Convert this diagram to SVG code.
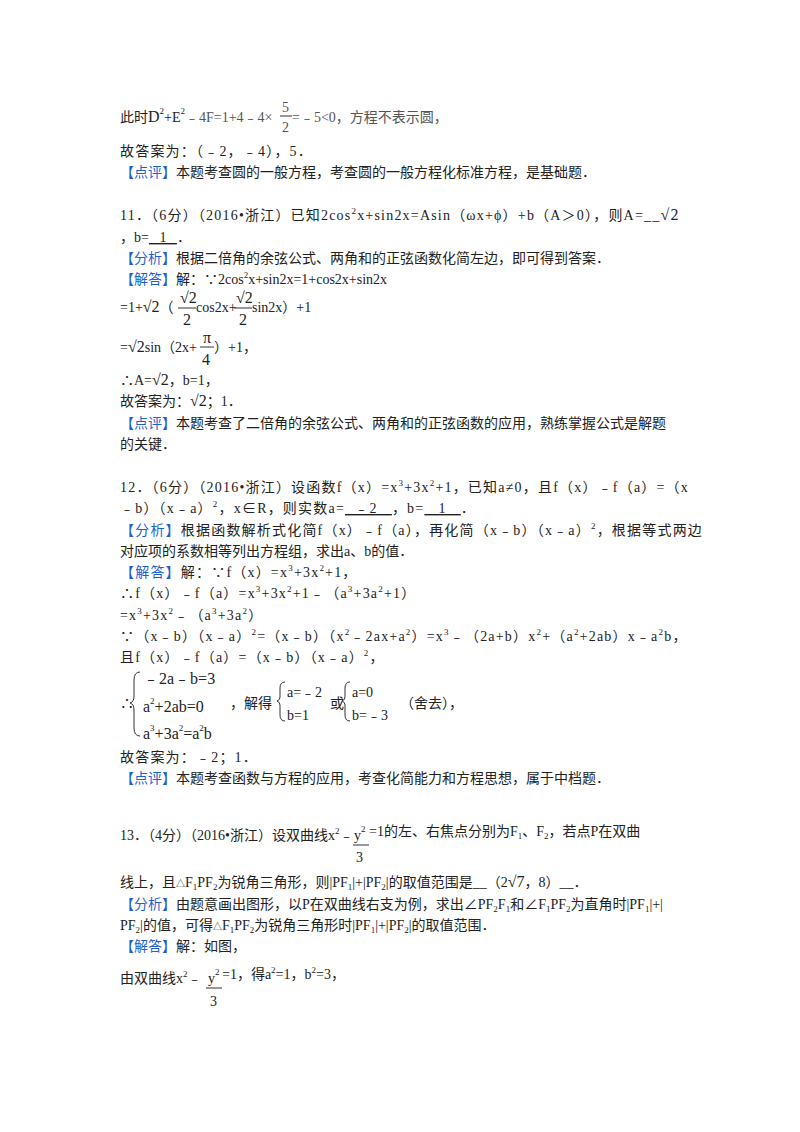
<svg xmlns="http://www.w3.org/2000/svg" width="800" height="1132" viewBox="0 0 800 1132">
<style>
text{font-family:"Liberation Serif","Noto Sans CJK SC",serif;font-size:14px;fill:#222}
.b{fill:#1f5fd0}
.s{font-size:9px}
.m{font-size:16px}
.g{fill:#555}
.w{letter-spacing:1.2px}
</style>
<rect width="800" height="1132" fill="#fff"/>
<g id="q10">
<text x="120" y="122">此时<tspan class="m">D</tspan><tspan class="s" dy="-8">2</tspan><tspan dy="8">+E</tspan><tspan class="s" dy="-8">2</tspan><tspan dy="8" class="g">﹣4F=1+4﹣4×</tspan></text>
<text x="282" y="112" class="g">5</text><line x1="280" y1="116" x2="292" y2="116" stroke="#333"/><text x="282" y="132" class="g">2</text>
<text x="292" y="122" class="g">=﹣5&lt;0，方程不表示圆，</text>
<text x="120" y="156" class="w">故答案为：（﹣2，﹣4），5．</text>
<text x="120" y="177"><tspan class="b">【点评】</tspan>本题考查圆的一般方程，考查圆的一般方程化标准方程，是基础题．</text>
</g>
<g id="q11">
<text x="120" y="220" class="w">11．（6分）（2016•浙江）已知2cos<tspan class="s" dy="-6">2</tspan><tspan dy="6">x+sin2x=Asin（ωx+ϕ）+b（A＞0），则A=__</tspan><tspan class="m">√2</tspan></text>
<text x="120" y="242">，b=<tspan text-decoration="underline">&#160;&#160;&#160;1&#160;&#160;&#160;</tspan>．</text>
<text x="120" y="263"><tspan class="b">【分析】</tspan>根据二倍角的余弦公式、两角和的正弦函数化简左边，即可得到答案．</text>
<text x="120" y="284"><tspan class="b">【解答】</tspan>解：∵2cos<tspan class="s" dy="-6">2</tspan><tspan dy="6">x+sin2x=1+cos2x+sin2x</tspan></text>
<text x="120" y="312">=1+<tspan class="m">√2</tspan>（</text>
<text x="180" y="303" class="m">√2</text><line x1="178" y1="308" x2="196" y2="308" stroke="#333"/><text x="183" y="325" class="m">2</text>
<text x="196" y="312">cos2x+</text>
<text x="236" y="303" class="m">√2</text><line x1="234" y1="308" x2="252" y2="308" stroke="#333"/><text x="239" y="325" class="m">2</text>
<text x="252" y="312">sin2x）+1</text>
<text x="120" y="352">=<tspan class="m">√2</tspan>sin（2x+</text>
<text x="203" y="343" class="m">π</text><line x1="200" y1="347" x2="214" y2="347" stroke="#333"/><text x="202" y="365" class="m">4</text>
<text x="214" y="352">）+1，</text>
<text x="120" y="385">∴A=<tspan class="m">√2</tspan>，b=1，</text>
<text x="120" y="406">故答案为：<tspan class="m">√2</tspan>；1．</text>
<text x="120" y="428"><tspan class="b">【点评】</tspan>本题考查了二倍角的余弦公式、两角和的正弦函数的应用，熟练掌握公式是解题</text>
<text x="120" y="449">的关键．</text>
</g>
<g id="q12">
<text x="120" y="492" class="w">12．（6分）（2016•浙江）设函数f（x）=x<tspan class="s" dy="-6">3</tspan><tspan dy="6">+3x</tspan><tspan class="s" dy="-6">2</tspan><tspan dy="6">+1，已知a≠0，且f（x）﹣f（a）=（x</tspan></text>
<text x="120" y="513" class="w">﹣b）（x﹣a）<tspan class="s" dy="-6">2</tspan><tspan dy="6">，x∈R，则实数a=</tspan><tspan text-decoration="underline">&#160;&#160;﹣2&#160;&#160;&#160;</tspan>，b=<tspan text-decoration="underline">&#160;&#160;&#160;1&#160;&#160;&#160;</tspan>．</text>
<text x="120" y="535" class="w"><tspan class="b">【分析】</tspan>根据函数解析式化简f（x）﹣f（a），再化简（x﹣b）（x﹣a）<tspan class="s" dy="-6">2</tspan><tspan dy="6">，根据等式两边</tspan></text>
<text x="120" y="556">对应项的系数相等列出方程组，求出a、b的值．</text>
<text x="120" y="577" class="w"><tspan class="b">【解答】</tspan>解：∵f（x）=x<tspan class="s" dy="-6">3</tspan><tspan dy="6">+3x</tspan><tspan class="s" dy="-6">2</tspan><tspan dy="6">+1，</tspan></text>
<text x="120" y="598" class="w">∴f（x）﹣f（a）=x<tspan class="s" dy="-6">3</tspan><tspan dy="6">+3x</tspan><tspan class="s" dy="-6">2</tspan><tspan dy="6">+1﹣（a</tspan><tspan class="s" dy="-6">3</tspan><tspan dy="6">+3a</tspan><tspan class="s" dy="-6">2</tspan><tspan dy="6">+1）</tspan></text>
<text x="120" y="620" class="w">=x<tspan class="s" dy="-6">3</tspan><tspan dy="6">+3x</tspan><tspan class="s" dy="-6">2</tspan><tspan dy="6">﹣（a</tspan><tspan class="s" dy="-6">3</tspan><tspan dy="6">+3a</tspan><tspan class="s" dy="-6">2</tspan><tspan dy="6">）</tspan></text>
<text x="120" y="641" class="w">∵（x﹣b）（x﹣a）<tspan class="s" dy="-6">2</tspan><tspan dy="6">=（x﹣b）（x</tspan><tspan class="s" dy="-6">2</tspan><tspan dy="6">﹣2ax+a</tspan><tspan class="s" dy="-6">2</tspan><tspan dy="6">）=x</tspan><tspan class="s" dy="-6">3</tspan><tspan dy="6">﹣（2a+b）x</tspan><tspan class="s" dy="-6">2</tspan><tspan dy="6">+（a</tspan><tspan class="s" dy="-6">2</tspan><tspan dy="6">+2ab）x﹣a</tspan><tspan class="s" dy="-6">2</tspan><tspan dy="6">b，</tspan></text>
<text x="120" y="662" class="w">且f（x）﹣f（a）=（x﹣b）（x﹣a）<tspan class="s" dy="-6">2</tspan><tspan dy="6">，</tspan></text>
<text x="120" y="708">∴</text>
<path d="M140 672 Q134 672 134 680 L134 696 Q134 702 130 703 Q134 704 134 710 L134 728 Q134 736 140 736" fill="none" stroke="#333"/>
<text x="143" y="684" class="m">﹣2a﹣b=3</text>
<text x="143" y="712" class="m">a<tspan class="s" dy="-8">2</tspan><tspan dy="8">+2ab=0</tspan></text>
<text x="143" y="739" class="m">a<tspan class="s" dy="-8">3</tspan><tspan dy="8">+3a</tspan><tspan class="s" dy="-8">2</tspan><tspan dy="8">=a</tspan><tspan class="s" dy="-8">2</tspan><tspan dy="8">b</tspan></text>
<text x="230" y="708">，解得</text>
<path d="M285 682 Q280 682 280 688 L280 697 Q280 700 277 701 Q280 702 280 705 L280 715 Q280 721 285 721" fill="none" stroke="#333"/>
<text x="287" y="697">a=﹣2</text><text x="287" y="720">b=1</text>
<text x="330" y="708">或</text>
<path d="M350 682 Q345 682 345 688 L345 697 Q345 700 342 701 Q345 702 345 705 L345 715 Q345 721 350 721" fill="none" stroke="#333"/>
<text x="352" y="697">a=0</text><text x="352" y="720">b=﹣3</text>
<text x="400" y="708">（舍去），</text>
<text x="120" y="762" class="w">故答案为：﹣2；1．</text>
<text x="120" y="783"><tspan class="b">【点评】</tspan>本题考查函数与方程的应用，考查化简能力和方程思想，属于中档题．</text>
</g>
<g id="q13">
<text x="120" y="840">13．（4分）（2016•浙江）设双曲线x<tspan class="s" dy="-6">2</tspan><tspan dy="6">﹣</tspan></text>
<text x="354" y="840">y<tspan class="s" dy="-8">2</tspan></text><line x1="353" y1="845" x2="369" y2="845" stroke="#333"/><text x="356" y="862">3</text>
<text x="369" y="836">=1的左、右焦点分别为F<tspan class="s" dy="3">1</tspan><tspan dy="-3">、F</tspan><tspan class="s" dy="3">2</tspan><tspan dy="-3">，若点P在双曲</tspan></text>
<text x="120" y="887">线上，且<tspan class="s">△</tspan>F<tspan class="s" dy="3">1</tspan><tspan dy="-3">PF</tspan><tspan class="s" dy="3">2</tspan><tspan dy="-3">为锐角三角形，则|PF</tspan><tspan class="s" dy="3">1</tspan><tspan dy="-3">|+|PF</tspan><tspan class="s" dy="3">2</tspan><tspan dy="-3">|的取值范围是__（2</tspan><tspan class="m">√7</tspan>，8）__．</text>
<text x="120" y="909"><tspan class="b">【分析】</tspan>由题意画出图形，以P在双曲线右支为例，求出∠PF<tspan class="s" dy="3">2</tspan><tspan dy="-3">F</tspan><tspan class="s" dy="3">1</tspan><tspan dy="-3">和∠F</tspan><tspan class="s" dy="3">1</tspan><tspan dy="-3">PF</tspan><tspan class="s" dy="3">2</tspan><tspan dy="-3">为直角时|PF</tspan><tspan class="s" dy="3">1</tspan><tspan dy="-3">|+|</tspan></text>
<text x="120" y="930">PF<tspan class="s" dy="3">2</tspan><tspan dy="-3">|的值，可得</tspan><tspan class="s">△</tspan>F<tspan class="s" dy="3">1</tspan><tspan dy="-3">PF</tspan><tspan class="s" dy="3">2</tspan><tspan dy="-3">为锐角三角形时|PF</tspan><tspan class="s" dy="3">1</tspan><tspan dy="-3">|+|PF</tspan><tspan class="s" dy="3">2</tspan><tspan dy="-3">|的取值范围．</tspan></text>
<text x="120" y="951"><tspan class="b">【解答】</tspan>解：如图，</text>
<text x="120" y="983">由双曲线x<tspan class="s" dy="-6">2</tspan><tspan dy="6">﹣</tspan></text>
<text x="208" y="983">y<tspan class="s" dy="-8">2</tspan></text><line x1="206" y1="988" x2="222" y2="988" stroke="#333"/><text x="210" y="1006">3</text>
<text x="222" y="979">=1，得a<tspan class="s" dy="-6">2</tspan><tspan dy="6">=1，b</tspan><tspan class="s" dy="-6">2</tspan><tspan dy="6">=3，</tspan></text>
</g>
</svg>
